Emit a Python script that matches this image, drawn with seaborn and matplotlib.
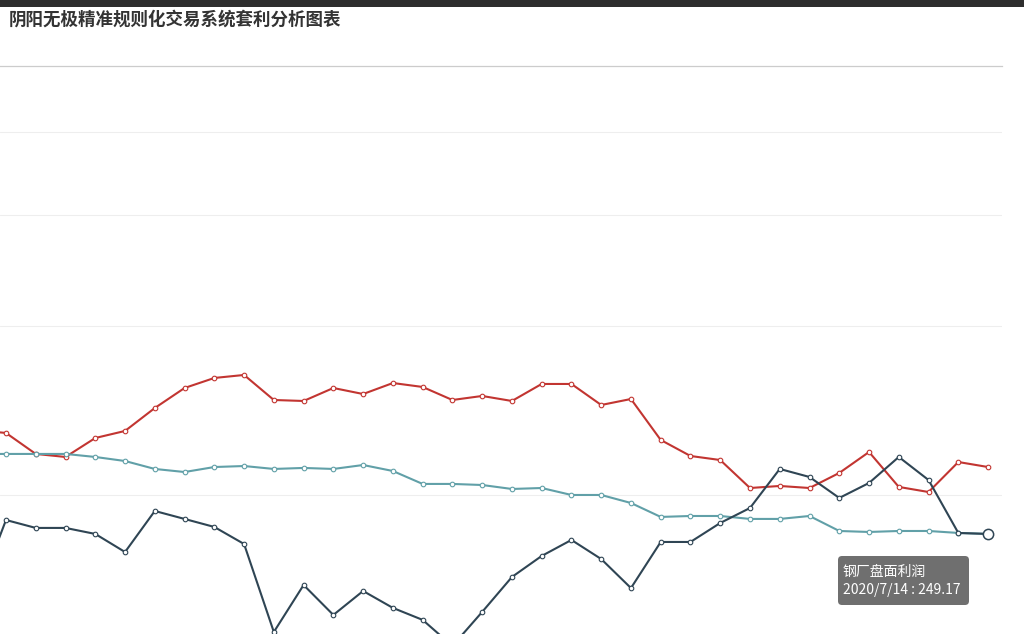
import numpy as np
import pandas as pd
import matplotlib
matplotlib.use("Agg")
import matplotlib.pyplot as plt
import seaborn as sns
from matplotlib.patches import FancyBboxPatch, Rectangle
from matplotlib.transforms import IdentityTransform
from matplotlib.ticker import FixedLocator, NullLocator, NullFormatter

# ---------------- data ----------------
dates = ["2020/5/25", "2020/5/26", "2020/5/27", "2020/5/28", "2020/5/29",
         "2020/6/1", "2020/6/2", "2020/6/3", "2020/6/4", "2020/6/5",
         "2020/6/8", "2020/6/9", "2020/6/10", "2020/6/11", "2020/6/12",
         "2020/6/15", "2020/6/16", "2020/6/17", "2020/6/18", "2020/6/19",
         "2020/6/22", "2020/6/23", "2020/6/24", "2020/6/29", "2020/6/30",
         "2020/7/1", "2020/7/2", "2020/7/3", "2020/7/6", "2020/7/7",
         "2020/7/8", "2020/7/9", "2020/7/10", "2020/7/13", "2020/7/14"]

red_values = [365.0, 362.0, 339.7, 336.6, 356.5, 364.2, 390.4, 414.8, 427.6, 431.5, 400.0,
              398.8, 414.8, 407.3, 421.1, 416.1, 400.0, 404.9, 398.8, 419.9, 419.9,
              394.0, 401.2, 354.4, 337.6, 333.5, 306.4, 308.3, 306.4, 320.7, 341.7,
              307.4, 302.7, 331.5, 326.5]
teal_values = [339.7, 339.7, 339.7, 339.7, 336.6, 332.5, 324.6, 321.6, 326.5, 327.5, 324.6,
               325.6, 324.6, 328.5, 322.6, 310.2, 310.2, 309.2, 305.5, 306.4, 300.0,
               300.0, 292.8, 280.7, 281.5, 281.5, 279.0, 279.0, 281.5, 269.0, 268.2,
               269.0, 269.0, 267.4, 266.6]
dark_values = [219.6, 278.1, 271.5, 271.5, 266.6, 252.4, 285.8, 279.0, 272.3, 258.6, 198.1,
               228.4, 208.6, 224.3, 213.1, 205.5, 189.9, 210.5, 234.0, 249.4, 261.8,
               247.1, 226.3, 260.2, 260.2, 275.6, 288.4, 324.6, 316.8, 297.3, 311.1,
               336.6, 313.9, 267.4, 266.6]

series_names = ["热卷盘面利润", "焦化盘面利润", "钢厂盘面利润"]
series_colors = ["#c23531", "#61a0a8", "#2f4554"]
grid_values = [300, 500, 700, 900]
y_top, y_bottom = 1100, 196.9

title_text = "阴阳无极精准规则化交易系统套利分析图表"
tooltip_name = "钢厂盘面利润"
tooltip_value = "2020/7/14 : 249.17"

# ---------------- style ----------------
sns.set_theme(style="white")
plt.rcParams["font.family"] = ["Noto Sans CJK SC", "DejaVu Sans"]

W, H = 1024, 634
fig = plt.figure(figsize=(W / 100, H / 100), dpi=100)
fig.patch.set_facecolor("white")
ax = fig.add_axes([0, 0, 1002 / W, (H - 66) / H])

idx = np.arange(len(dates))
df = pd.DataFrame({"idx": idx, "date": dates})
for name, vals, col in zip(series_names, [red_values, teal_values, dark_values], series_colors):
    sns.lineplot(x=df["idx"], y=vals, ax=ax, color=col, linewidth=1.5,
                 marker="o", markersize=3.3, markerfacecolor="white",
                 markeredgecolor=col, markeredgewidth=0.8, legend=False,
                 estimator=None, sort=False)

# hover emphasis on last point of 钢厂盘面利润
ax.plot(idx[-1], dark_values[-1], marker="o", markersize=7.4,
        markerfacecolor="white", markeredgecolor=series_colors[2],
        markeredgewidth=1.1, zorder=6, clip_on=False)

ax.set_yscale("log")
ax.yaxis.set_major_locator(FixedLocator(grid_values))
ax.yaxis.set_minor_locator(NullLocator())
ax.yaxis.set_major_formatter(NullFormatter())
ax.yaxis.set_minor_formatter(NullFormatter())
ax.set_xticks(idx)
ax.set_xticklabels(dates)
ax.tick_params(axis="x", labelbottom=False, length=0)
ax.tick_params(axis="y", length=0)
ax.set_ylim(y_bottom, y_top)
ax.set_xlim(1 - 6 / 29.76, 1 + 996 / 29.76)
ax.set_xlabel("")
ax.set_ylabel("")
ax.grid(axis="y", color="#eeeeee", linewidth=0.8)
ax.grid(axis="x", visible=False)
for s in ["left", "right", "bottom"]:
    ax.spines[s].set_visible(False)
ax.spines["top"].set_color("#cccccc")
ax.spines["top"].set_linewidth(0.9)
ax.set_facecolor("none")

# top dark bar
fig.add_artist(Rectangle((0, H - 7), W, 7, transform=IdentityTransform(),
                         facecolor="#2e2e2e", edgecolor="none"))

# title
fig.text(9 / W, (H - 20) / H, title_text, fontsize=12.6, fontweight="bold",
         color="#333333", ha="left", va="center")

# tooltip
fig.add_artist(FancyBboxPatch((838, H - 605), 131, 49,
                              boxstyle="round,pad=0,rounding_size=4",
                              transform=IdentityTransform(),
                              facecolor=(50 / 255, 50 / 255, 50 / 255, 0.7),
                              edgecolor="none", zorder=10))
fig.text(843 / W, (H - 572) / H, tooltip_name, fontsize=10, color="white",
         ha="left", va="center", zorder=11)
fig.text(843 / W, (H - 590) / H, tooltip_value, fontsize=10, color="white",
         ha="left", va="center", zorder=11)

fig.savefig("out.png", dpi=100)
